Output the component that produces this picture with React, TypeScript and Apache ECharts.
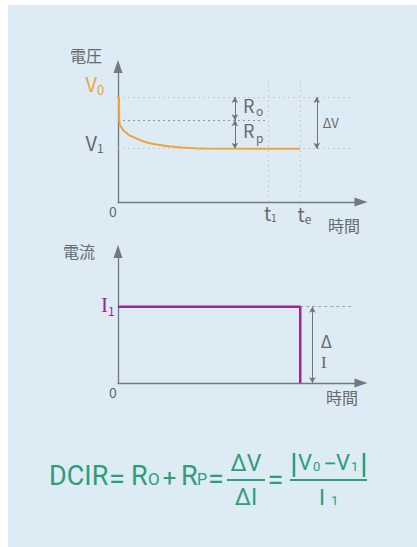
import React, { useEffect, useRef } from "react";
import * as echarts from "echarts";

// ---- data (arbitrary schematic units) ----
const V0 = 77.4;
const VP = 60.3;
const V1 = 39.3;
const T1 = 62;
const TE = 75;
const voltTime = [-2.9, 0.4, 0.5, 0.8, 2.2, 4.2, 7.0, 11.1, 15.2, 20.6, 26.3, 31.7, 35.8, TE];
const voltValue = [V0, V0, VP, 56.6, 52.9, 49.8, 47.3, 44.3, 42.6, 41.2, 40.2, 39.7, 39.4, V1];
const I1 = 58;
const currTime = [0, TE, TE];
const currValue = [I1, I1, 0];
const GUIDE_END = 96.3;
const T_TOP = 89.7;
const RO_X = 48.1;
const DV_X = 81.8;
const DI_X = 80;

const SANS = '"Noto Sans CJK JP", "Noto Sans", sans-serif';
const SERIF = '"Liberation Serif", "DejaVu Serif", serif';
const FORM = 'Roboto, "Liberation Sans", sans-serif';
const GRAY = "#666a6d";
const ORANGE = "#f2a23c";
const PURPLE = "#9b2a8f";
const GREEN = "#2f9d77";
const AXIS = "#6f7b83";

function txt(x: number, y: number, text: string, size: number, color: string, align = "center", family = SANS) {
  return {
    type: "text",
    x,
    y,
    silent: true,
    z: 10,
    style: {
      text,
      fill: color,
      font: `${size}px ${family}`,
      textAlign: align,
      align,
      textVerticalAlign: "middle",
      verticalAlign: "middle",
    },
  };
}

function seg(x1: number, y1: number, x2: number, y2: number, color: string, w = 2) {
  return { type: "line", silent: true, z: 10, shape: { x1, y1, x2, y2 }, style: { stroke: color, lineWidth: w } };
}

function guide(a: number[], b: number[], color: string, type: any) {
  return [
    { coord: a, symbol: "none", lineStyle: { color, width: 1, type } },
    { coord: b, symbol: "none" },
  ];
}
function arrow(a: number[], b: number[]) {
  return [
    { coord: a, symbol: "arrow", symbolSize: [5, 6], lineStyle: { color: "#6b7479", width: 1, type: "solid" } },
    { coord: b, symbol: "arrow", symbolSize: [5, 6] },
  ];
}

const axisCommon = {
  axisTick: { show: false },
  axisLabel: { show: false },
  splitLine: { show: false },
};

export default function App() {
  const ref = useRef<HTMLDivElement>(null);
  useEffect(() => {
    const chart = echarts.init(ref.current!, null, { renderer: "svg" });
    const xAx = (gi: number) => ({
      type: "value",
      gridIndex: gi,
      min: 0,
      max: 100,
      ...axisCommon,
      axisLine: { show: true, symbol: ["none", "triangle"], symbolSize: [9, 13], lineStyle: { color: AXIS, width: 1.3 } },
    });
    const yAx = (gi: number) => ({
      type: "value",
      gridIndex: gi,
      min: 0,
      max: 100,
      ...axisCommon,
      axisLine: { show: true, onZero: false, symbol: ["none", "triangle"], symbolSize: [9, 13], lineStyle: { color: AXIS, width: 1.3 } },
    });
    chart.setOption({
      animation: false,
      backgroundColor: "transparent",
      grid: [
        { left: 118, right: 56, top: 66.5, bottom: 345 },
        { left: 118, right: 56, top: 251.5, bottom: 164 },
      ],
      xAxis: [xAx(0), xAx(1)],
      yAxis: [yAx(0), yAx(1)],
      series: [
        {
          type: "line",
          xAxisIndex: 0,
          yAxisIndex: 0,
          data: voltTime.map((t, i) => [t, voltValue[i]]),
          showSymbol: false,
          symbol: "none",
          clip: false,
          z: 5,
          lineStyle: { color: ORANGE, width: 2 },
          markLine: {
            silent: true,
            symbol: ["none", "none"],
            label: { show: false },
            z: 3,
            data: [
              guide([0, V0], [GUIDE_END, V0], "#c3ccd2", [2, 3]),
              guide([0, V1], [GUIDE_END, V1], "#c3ccd2", [2, 3]),
              guide([0, VP], [T1, VP], "#8f989e", [2, 3]),
              guide([T1, 0], [T1, T_TOP], "#c6ced3", [2, 3]),
              guide([TE, 0], [TE, T_TOP], "#c6ced3", [2, 3]),
              arrow([RO_X, V0], [RO_X, VP]),
              arrow([RO_X, VP], [RO_X, V1]),
              arrow([DV_X, V0], [DV_X, V1]),
            ],
          },
        },
        {
          type: "line",
          xAxisIndex: 1,
          yAxisIndex: 1,
          data: currTime.map((t, i) => [t, currValue[i]]),
          showSymbol: false,
          symbol: "none",
          clip: false,
          z: 5,
          lineStyle: { color: PURPLE, width: 2.5 },
          markLine: {
            silent: true,
            symbol: ["none", "none"],
            label: { show: false },
            z: 3,
            data: [guide([TE, I1], [GUIDE_END, I1], "#9aa3a9", [3, 3]), arrow([DI_X, I1], [DI_X, 0])],
          },
        },
      ],
    });

    const px = (gi: number, x: number, y: number) => chart.convertToPixel({ gridIndex: gi } as any, [x, y]) as number[];
    const O = px(0, 0, 0);
    const top0 = px(0, 0, 100);
    const pV0 = px(0, 0, V0);
    const pV1 = px(0, 0, V1);
    const pVP = px(0, 0, VP);
    const pT1 = px(0, T1, 0);
    const pTE = px(0, TE, 0);
    const pRo = px(0, RO_X, 0);
    const pDV = px(0, DV_X, 0);
    const O2 = px(1, 0, 0);
    const top1 = px(1, 0, 100);
    const pI1 = px(1, 0, I1);
    const pDI = px(1, DI_X, 0);
    const midRo = (pV0[1] + pVP[1]) / 2;
    const midRp = (pVP[1] + pV1[1]) / 2;
    const midDI = (pI1[1] + O2[1]) / 2;

    const elements: any[] = [
      // top chart labels
      txt(top0[0] - 32, top0[1] - 11.5, "電圧", 16, GRAY),
      txt(O[0] - 21, pV0[1] - 13.4, "V", 20, ORANGE, "right"),
      txt(O[0] - 21, pV0[1] - 7.7, "0", 13, ORANGE, "left"),
      txt(O[0] - 21, pV1[1] - 6, "V", 20, GRAY, "right"),
      txt(O[0] - 21, pV1[1] - 1, "1", 12, GRAY, "left"),
      txt(pRo[0] + 8, midRo - 3.3, "R", 18, GRAY, "left"),
      txt(pRo[0] + 21, midRo + 1.7, "o", 12, GRAY, "left"),
      txt(pRo[0] + 8, midRp - 4.3, "R", 18, GRAY, "left"),
      txt(pRo[0] + 21, midRp + 2.7, "p", 12, GRAY, "left"),
      txt(pDV[0] + 6, (pV0[1] + pV1[1]) / 2, "ΔV", 13, GRAY, "left"),
      txt(O[0] - 5, O[1] + 9, "0", 14, GRAY),
      txt(pT1[0] + 2.5, pT1[1] + 10, "t", 19, GRAY, "right"),
      txt(pT1[0] + 2, pT1[1] + 15, "1", 11, GRAY, "left"),
      txt(pTE[0] + 4.5, pTE[1] + 11, "t", 19, GRAY, "right"),
      txt(pTE[0] + 4.5, pTE[1] + 16, "e", 12, GRAY, "left"),
      txt(O[0] + 226, O[1] + 23, "時間", 16, GRAY),
      // bottom chart labels
      txt(top1[0] - 39, top1[1] - 0.5, "電流", 16, GRAY),
      txt(O2[0] - 10, pI1[1] - 1.5, "I", 21, PURPLE, "right", SERIF),
      txt(O2[0] - 10, pI1[1] + 3.5, "1", 12, PURPLE, "left"),
      txt(pDI[0] + 14, midDI - 4, "Δ", 17, GRAY),
      txt(pDI[0] + 11.5, midDI + 17.6, "I", 17, GRAY, "center", SERIF),
      txt(O2[0] - 5, O2[1] + 9, "0", 14, GRAY),
      txt(O2[0] + 224, O2[1] + 14, "時間", 16, GRAY),
      // formula
      txt(49, 476, "DCIR", 27, GREEN, "left", FORM),
      txt(117, 479, "=", 29, GREEN, "center", FORM),
      txt(131, 476, "R", 27, GREEN, "left", FORM),
      txt(148, 479, "O", 17, GREEN, "left", FORM),
      txt(169.5, 478, "+", 24, GREEN, "center", FORM),
      txt(181, 476, "R", 27, GREEN, "left", FORM),
      txt(197, 479, "P", 16, GREEN, "left", FORM),
      txt(216, 479, "=", 29, GREEN, "center", FORM),
      seg(227, 480, 265, 480, GREEN, 2),
      txt(246, 463.5, "ΔV", 23, GREEN, "center", FORM),
      txt(246, 497.5, "ΔI", 23, GREEN, "center", FORM),
      txt(275.5, 480, "=", 29, GREEN, "center", FORM),
      seg(290, 480, 367, 480, GREEN, 2),
      seg(294, 453, 294, 477, GREEN, 2.5),
      txt(298, 462.5, "V", 22, GREEN, "left", FORM),
      txt(313, 466, "0", 13, GREEN, "left", FORM),
      txt(330, 464, "−", 24, GREEN, "center", FORM),
      txt(336, 462.5, "V", 22, GREEN, "left", FORM),
      txt(351, 466, "1", 13, GREEN, "left", FORM),
      seg(364, 453, 364, 477, GREEN, 2.5),
      txt(319, 497.5, "I", 22, GREEN, "left", FORM),
      txt(331, 500, "1", 13, GREEN, "left", FORM),
    ];
    chart.setOption({ graphic: { elements } });
    return () => chart.dispose();
  }, []);
  return (
    <div style={{ position: "fixed", left: 0, top: 0, width: 417, height: 547, background: "#ffffff" }}>
      <div style={{ position: "absolute", left: 8, top: 5, right: 0, bottom: 0, background: "#dcebf4" }} />
      <div ref={ref} style={{ position: "absolute", left: 0, top: 0, width: 417, height: 547 }} />
    </div>
  );
}
